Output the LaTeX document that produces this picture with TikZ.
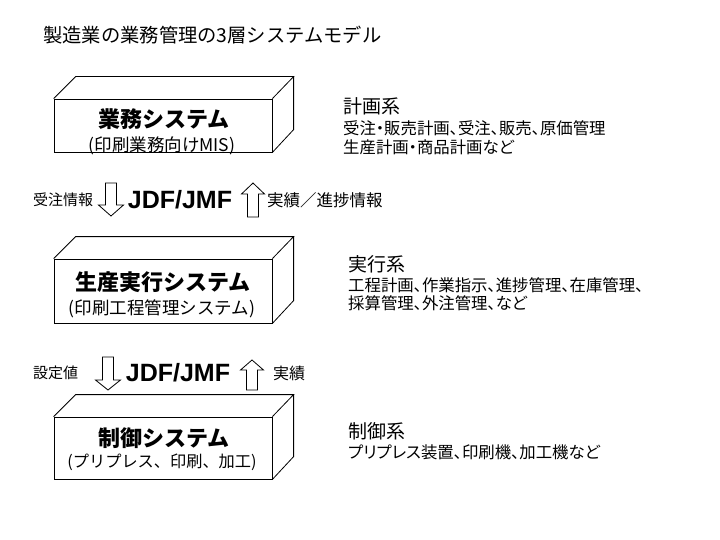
\documentclass[tikz,border=0pt]{standalone}
\usepackage{fontspec}
\newfontfamily\jp{Noto Sans CJK JP}
\newfontfamily\jpp{Noto Sans CJK JP}[CharacterWidth=AlternateProportional]
\newfontfamily\latb{Liberation Sans}
\newcommand\fs[1]{\fontsize{#1}{#1}\selectfont}
\newcommand\myDown[5]{% cx, top, headbase, tip
  \draw[blkarrow] (#1-5.5,#2) -- (#1+5.5,#2) -- (#1+5.5,#3) -- (#1+12.5,#3) -- (#1,#4) -- (#1-12.5,#3) -- (#1-5.5,#3) -- cycle;}
\newcommand\myUp[4]{% cx, tip, headbase, bottom
  \draw[blkarrow] (#1-5.5,#4) -- (#1+5.5,#4) -- (#1+5.5,#3) -- (#1+11.5,#3) -- (#1,#2) -- (#1-11.5,#3) -- (#1-5.5,#3) -- cycle;}
\begin{document}
\begin{tikzpicture}[x=1pt,y=-1pt,
  boxline/.style={draw=black, line width=0.8pt, line join=miter},
  boxfront/.style={boxline, minimum width=218pt, inner sep=0pt},
  boxtitle/.style={font=\jp\bfseries\fs{22}, inner sep=0pt},
  boxsub/.style={font=\jp\fs{17.5}, inner sep=0pt},
  blkarrow/.style={draw=black, line width=0.8pt, fill=white},
  jdf/.style={font=\latb\bfseries\fs{25}, inner sep=0pt},
  side/.style={font=\jp\fs{15}, inner sep=0pt},
  dhead/.style={font=\jp\fs{19}, inner sep=0pt, anchor=west},
  dline/.style={font=\jpp\fs{16.4}, inner sep=0pt, anchor=west}]
\useasboundingbox (0,0) rectangle (720,540);

% title
\node[font=\jp\fs{19.3}, inner sep=0pt, anchor=west] (title) at (43,35) {製造業の業務管理の3層システムモデル};

% boxes
\node[boxfront, minimum height=53pt] (b1) at (163,125.5) {};
\node[boxfront, minimum height=64pt] (b2) at (163,291) {};
\node[boxfront, minimum height=62pt] (b3) at (163,448) {};
\foreach \b/\h in {b1/53,b2/64,b3/62}{
  \draw[boxline] (\b.north west) -- ++(22,-22) -- ++(218,0) coordinate (\b tr) -- (\b.north east);
  \draw[boxline] (\b tr) -- ++(0,\h) -- (\b.south east);
}

\node[boxtitle] (b1t) at (164,119) {業務システム};
\node[boxsub] (b1s) at (162,146) {(印刷業務向けMIS)};
\node[boxtitle] (b2t) at (163,282) {生産実行システム};
\node[boxsub] (b2s) at (162,309) {(印刷工程管理システム)};
\node[boxtitle] (b3t) at (164,438) {制御システム};
\node[boxsub, font=\jp\fs{16.2}] (b3s) at (162,462) {(プリプレス、印刷、加工)};

% arrows row 1
\myDown{111}{183}{205}{216}{}
\myUp{253}{183}{194}{217}
\node[jdf] (j1) at (180,200) {JDF/JMF};
\node[side, anchor=west] (l1) at (33,200) {受注情報};
\node[side, anchor=west, font=\jp\fs{16.5}] (r1) at (267,200) {実績／進捗情報};

% arrows row 2
\myDown{108}{357}{380}{390}{}
\myUp{252}{360}{370}{390}
\node[jdf] (j2) at (178,373) {JDF/JMF};
\node[side, anchor=west] (l2) at (33,373) {設定値};
\node[side, anchor=west, font=\jp\fs{16}] (r2) at (273,373) {実績};

% descriptions
\node[dhead] (d1h) at (343,106) {計画系};
\node[dline] (d1a) at (343,128) {受注・販売計画、受注、販売、原価管理};
\node[dline] (d1b) at (343,147) {生産計画・商品計画など};

\node[dhead] (d2h) at (348,264) {実行系};
\node[dline] (d2a) at (348,285) {工程計画、作業指示、進捗管理、在庫管理、};
\node[dline] (d2b) at (348,303) {採算管理、外注管理、など};

\node[dhead] (d3h) at (348,431) {制御系};
\node[dline] (d3a) at (348,452) {プリプレス装置、印刷機、加工機など};
\end{tikzpicture}
\end{document}
